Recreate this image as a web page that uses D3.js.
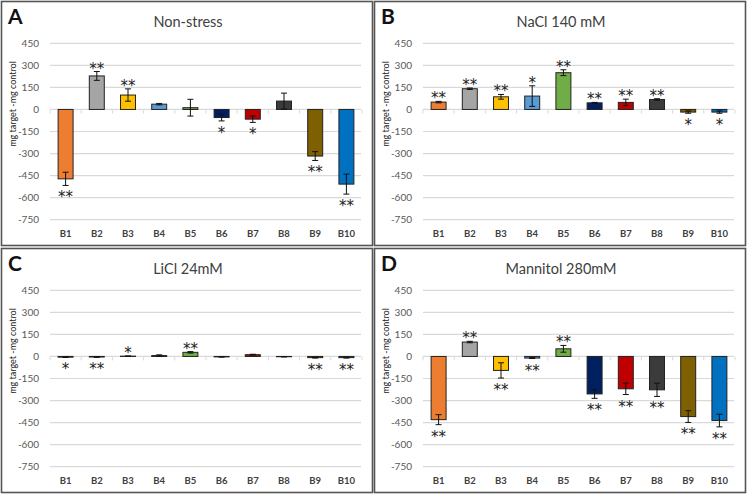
<!DOCTYPE html>
<html><head><meta charset="utf-8">
<script src="https://cdn.jsdelivr.net/npm/d3@7"></script>
<style>body{margin:0;background:#fff}svg{display:block}text{font-family:Lato,"Open Sans",sans-serif}</style>
</head><body>
<svg id="chart" width="747" height="494"></svg>
<script>
const categories = ["B1","B2","B3","B4","B5","B6","B7","B8","B9","B10"];
const barColors = ["#ED7D31","#A5A5A5","#FFC000","#5B9BD5","#70AD47","#002060","#C00000","#3B3B3B","#7F6000","#0070C0"];
const yTicks = [450,300,150,0,-150,-300,-450,-600,-750];
const panelLetters = ["A","B","C","D"];
const panelTitles = ["Non-stress","NaCl 140 mM","LiCl 24mM","Mannitol 280mM"];
const yLabel = "mg target -mg control";

const nonStressValues = [-472,228,98,36,12,-55,-66,57,-317,-508];
const nonStressErrors = [45,30,42,5,57,23,22,54,30,68];
const nonStressSig = ["**","**","**","","","*","*","","**","**"];

const naclValues = [50,141,86,91,250,45,48,68,-18,-18];
const naclErrors = [5,5,16,70,20,3,22,5,8,8];
const naclSig = ["**","**","**","*","**","**","**","**","*","*"];

const liclValues = [-5,-4,2,6,28,-3,12,-2,-8,-8];
const liclErrors = [2,2,1,5,5,1,3,1,3,3];
const liclSig = ["*","**","*","","**","","","","**","**"];

const mannitolValues = [-430,98,-95,-11,52,-255,-220,-227,-409,-436];
const mannitolErrors = [34,5,52,3,23,30,39,45,40,43];
const mannitolSig = ["**","**","**","**","**","**","**","**","**","**"];

const panelValues = [nonStressValues, naclValues, liclValues, mannitolValues];
const panelErrors = [nonStressErrors, naclErrors, liclErrors, mannitolErrors];
const panelSig = [nonStressSig, naclSig, liclSig, mannitolSig];

const svg = d3.select("#chart");
const origins = [[0,0],[373,0],[0,247],[373,247]];
const W = 373, H = 246;

const x = d3.scaleBand().domain(categories).range([50,362]).paddingInner(0.52).paddingOuter(0.26);
const y = d3.scaleLinear().domain([-750,450]).range([219.7,43.3]);

panelTitles.forEach((title,p)=>{
  const g = svg.append("g").attr("transform",`translate(${origins[p][0]},${origins[p][1]})`);
  g.append("rect").attr("x",1.5).attr("y",1.5).attr("width",W-2).attr("height",H-2)
    .attr("fill","#fff").attr("stroke","#555").attr("stroke-width",1.6);
  g.selectAll(".grid").data(yTicks).join("line")
    .attr("x1",50).attr("x2",361).attr("y1",d=>y(d)).attr("y2",d=>y(d))
    .attr("stroke","#d9d9d9").attr("stroke-width",1.2);
  g.selectAll(".tl").data(yTicks).join("text")
    .attr("x",39).attr("y",d=>y(d)+3.5).attr("text-anchor","end")
    .attr("font-size",10).attr("fill","#595959").text(d=>d);
  const step = (362-50)/categories.length;
  g.selectAll(".zt").data(d3.range(categories.length+1)).join("line")
    .attr("x1",i=>50+i*step).attr("x2",i=>50+i*step)
    .attr("y1",y(0)).attr("y2",y(0)+4).attr("stroke","#d9d9d9").attr("stroke-width",1);
  g.selectAll(".cl").data(categories).join("text")
    .attr("x",d=>x(d)+x.bandwidth()/2).attr("y",237).attr("text-anchor","middle")
    .attr("font-size",9.5).attr("font-weight","bold").attr("fill","#404040").text(d=>d);
  g.append("text").attr("x",188).attr("y",27).attr("text-anchor","middle")
    .attr("font-size",14.5).attr("fill","#404040").text(title);
  g.append("text").attr("x",8).attr("y",24).attr("font-size",21).attr("font-weight","bold")
    .attr("fill","#111").text(panelLetters[p]);
  g.append("text").attr("transform",`translate(16,104) rotate(-90)`).attr("text-anchor","middle")
    .attr("font-size",9).attr("fill","#222").text(yLabel);

  const vals = panelValues[p], errs = panelErrors[p], sig = panelSig[p];
  const data = categories.map((c,i)=>({c, v:vals[i], e:errs[i], s:sig[i], col:barColors[i]}));
  g.selectAll(".bar").data(data).join("rect")
    .attr("x",d=>x(d.c)).attr("width",x.bandwidth())
    .attr("y",d=>y(Math.max(0,d.v))).attr("height",d=>Math.abs(y(d.v)-y(0)))
    .attr("fill",d=>d.col).attr("stroke","#222").attr("stroke-width",1);
  const eb = g.selectAll(".eb").data(data).join("g");
  eb.append("line").attr("x1",d=>x(d.c)+x.bandwidth()/2).attr("x2",d=>x(d.c)+x.bandwidth()/2)
    .attr("y1",d=>y(d.v+d.e)).attr("y2",d=>y(d.v-d.e)).attr("stroke","#111").attr("stroke-width",1);
  [1,-1].forEach(sgn=>{
    eb.append("line").attr("x1",d=>x(d.c)+x.bandwidth()/2-3).attr("x2",d=>x(d.c)+x.bandwidth()/2+3)
      .attr("y1",d=>y(d.v+sgn*d.e)).attr("y2",d=>y(d.v+sgn*d.e)).attr("stroke","#111").attr("stroke-width",1);
  });
  g.selectAll(".sig").data(data.filter(d=>d.s)).join("text")
    .attr("x",d=>x(d.c)+x.bandwidth()/2).attr("text-anchor","middle")
    .attr("y",d=> d.v>=0 ? y(d.v+d.e)+2 : y(d.v-d.e)+17)
    .style("font-family","'DejaVu Sans',sans-serif")
    .attr("font-size",15).attr("fill","#222").text(d=>d.s);
});
</script>
</body></html>
